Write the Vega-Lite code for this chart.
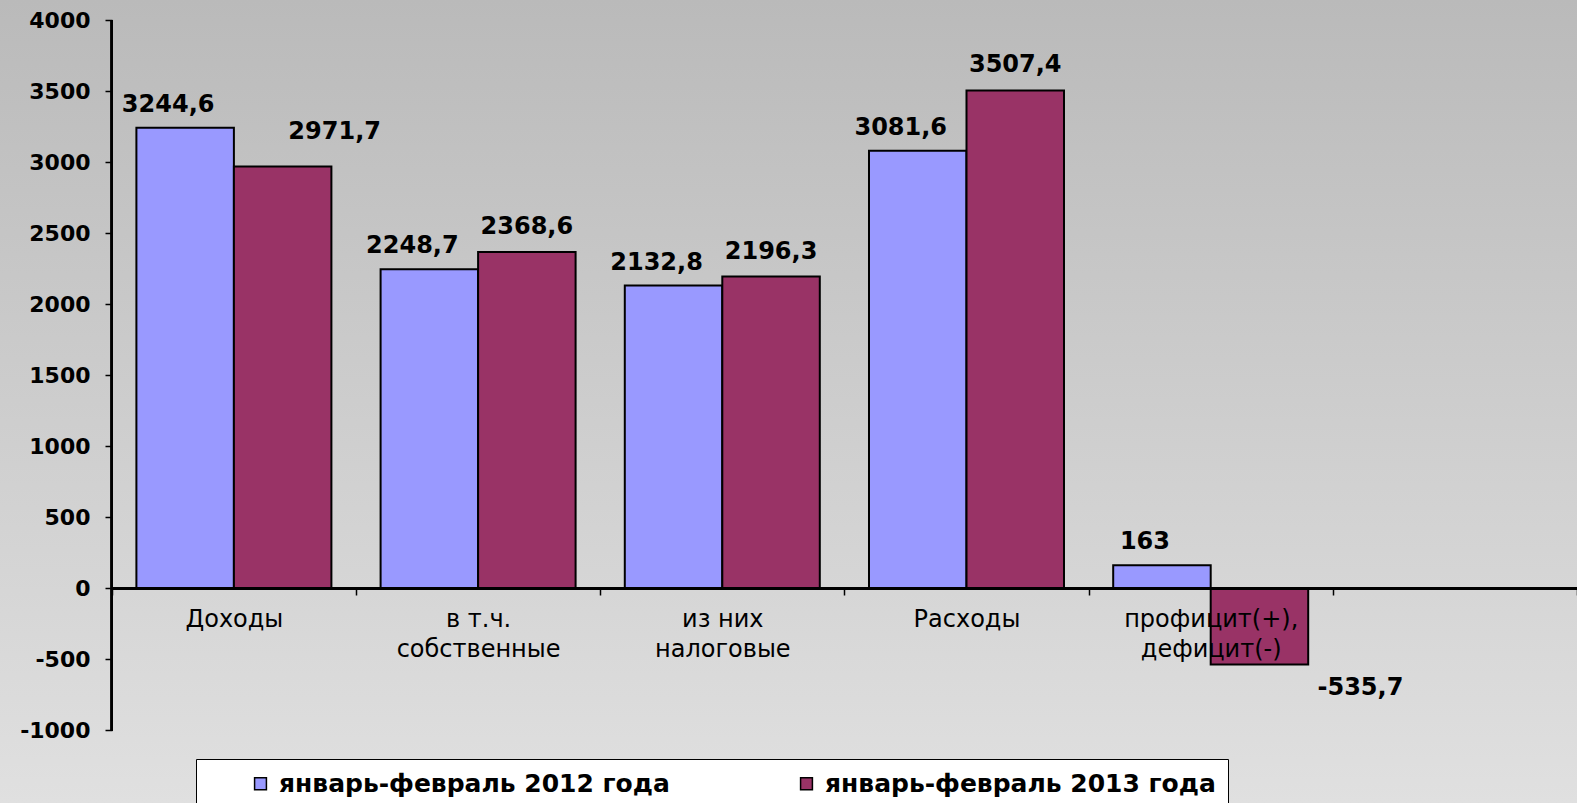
{
  "$schema": "https://vega.github.io/schema/vega-lite/v6.json",
  "width": 1577,
  "height": 803,
  "autosize": {"type": "none"},
  "padding": 0,
  "background": "#cccccc",
  "config": {
    "view": {"stroke": null, "fill": {"gradient": "linear", "x1": 0, "y1": 0, "x2": 0, "y2": 1, "stops": [{"offset": 0, "color": "#bababa"}, {"offset": 1, "color": "#e0e0e0"}]}},
    "font": "DejaVu Sans",
    "locale": {"number": {"decimal": ",", "thousands": "", "grouping": [3], "currency": ["", ""], "minus": "-"}}
  },
  "data": {"values": [
    {"category": "Доходы", "series": "январь-февраль 2012 года", "value": 3244.6},
    {"category": "Доходы", "series": "январь-февраль 2013 года", "value": 2971.7},
    {"category": "в т.ч. собственные", "series": "январь-февраль 2012 года", "value": 2248.7},
    {"category": "в т.ч. собственные", "series": "январь-февраль 2013 года", "value": 2368.6},
    {"category": "из них налоговые", "series": "январь-февраль 2012 года", "value": 2132.8},
    {"category": "из них налоговые", "series": "январь-февраль 2013 года", "value": 2196.3},
    {"category": "Расходы", "series": "январь-февраль 2012 года", "value": 3081.6},
    {"category": "Расходы", "series": "январь-февраль 2013 года", "value": 3507.4},
    {"category": "профицит(+), дефицит(-)", "series": "январь-февраль 2012 года", "value": 163},
    {"category": "профицит(+), дефицит(-)", "series": "январь-февраль 2013 года", "value": -535.7}
  ]},
  "layer": [
    {
      "mark": {"type": "bar", "stroke": "black", "strokeWidth": 2},
      "encoding": {
        "x": {"field": "category", "type": "nominal", "sort": null,
          "scale": {"domain": ["Доходы", "в т.ч. собственные", "из них налоговые", "Расходы", "профицит(+), дефицит(-)", " "], "paddingInner": 0, "paddingOuter": 0.2289, "align": 1},
          "axis": {"title": null, "orient": "bottom", "offset": -215, "domain": false, "tickBand": "extent", "tickColor": "black", "tickSize": 7, "tickWidth": 1.5,
            "labelAngle": 0, "labelFont": "DejaVu Sans", "labelFontSize": 24, "labelColor": "black", "labelPadding": 12, "labelLineHeight": 30, "labelBaseline": "top", "labelLimit": 400,
            "labelExpr": "datum.label == 'в т.ч. собственные' ? ['в т.ч.', 'собственные'] : datum.label == 'из них налоговые' ? ['из них', 'налоговые'] : datum.label == 'профицит(+), дефицит(-)' ? ['профицит(+),', 'дефицит(-)'] : datum.label",
            "zindex": 2}},
        "xOffset": {"field": "series", "type": "nominal", "scale": {"paddingInner": 0, "paddingOuter": 0.2523}},
        "y": {"field": "value", "type": "quantitative",
          "scale": {"domain": [-1511, 4144], "nice": false, "zero": false},
          "axis": {"title": null, "offset": -112, "domain": false, "grid": false, "values": [-1000, -500, 0, 500, 1000, 1500, 2000, 2500, 3000, 3500, 4000], "format": "d",
            "tickColor": "black", "tickSize": 7, "tickWidth": 1.5, "labelFont": "DejaVu Sans", "labelFontWeight": "bold", "labelFontSize": 22, "labelColor": "black", "labelPadding": 15}},
        "y2": {"datum": 0},
        "color": {"field": "series", "type": "nominal",
          "scale": {"domain": ["январь-февраль 2012 года", "январь-февраль 2013 года"], "range": ["#9999ff", "#993366"]},
          "legend": {"title": null, "orient": "none", "legendX": 196, "legendY": 759, "direction": "horizontal",
            "fillColor": "white", "strokeColor": "black", "padding": 12, "symbolType": "square", "symbolSize": 140,
            "symbolStrokeColor": "black", "symbolStrokeWidth": 1.5, "labelFont": "DejaVu Sans", "labelFontSize": 25, "labelFontWeight": "bold",
            "labelColor": "black", "labelLimit": 600, "columnPadding": 84, "symbolOffset": 40, "labelOffset": 6}}
      }
    },
    {
      "transform": [{"filter": "datum.series == 'январь-февраль 2012 года'"}],
      "mark": {"type": "text", "fontWeight": "bold", "fontSize": 24, "font": "DejaVu Sans", "baseline": "middle", "dx": -17, "dy": -23, "color": "black"},
      "encoding": {
        "x": {"field": "category", "type": "nominal", "sort": null},
        "xOffset": {"field": "series", "type": "nominal"},
        "y": {"field": "value", "type": "quantitative"},
        "text": {"field": "value", "type": "quantitative", "format": ".1~f"}
      }
    },
    {
      "transform": [{"filter": "datum.series == 'январь-февраль 2013 года' && datum.category != 'Доходы' && datum.value > 0"}],
      "mark": {"type": "text", "fontWeight": "bold", "fontSize": 24, "font": "DejaVu Sans", "baseline": "middle", "dx": 0, "dy": -25, "color": "black"},
      "encoding": {
        "x": {"field": "category", "type": "nominal", "sort": null},
        "xOffset": {"field": "series", "type": "nominal"},
        "y": {"field": "value", "type": "quantitative"},
        "text": {"field": "value", "type": "quantitative", "format": ".1~f"}
      }
    },
    {
      "transform": [{"filter": "datum.series == 'январь-февраль 2013 года' && datum.category == 'Доходы'"}],
      "mark": {"type": "text", "fontWeight": "bold", "fontSize": 24, "font": "DejaVu Sans", "baseline": "middle", "dx": 52, "dy": -34, "color": "black"},
      "encoding": {
        "x": {"field": "category", "type": "nominal", "sort": null},
        "xOffset": {"field": "series", "type": "nominal"},
        "y": {"field": "value", "type": "quantitative"},
        "text": {"field": "value", "type": "quantitative", "format": ".1~f"}
      }
    },
    {
      "transform": [{"filter": "datum.value < 0"}],
      "mark": {"type": "text", "fontWeight": "bold", "fontSize": 24, "font": "DejaVu Sans", "baseline": "middle", "dx": 101, "dy": 23, "color": "black"},
      "encoding": {
        "x": {"field": "category", "type": "nominal", "sort": null},
        "xOffset": {"field": "series", "type": "nominal"},
        "y": {"field": "value", "type": "quantitative"},
        "text": {"field": "value", "type": "quantitative", "format": ".1~f"}
      }
    },
    {
      "mark": {"type": "rule", "color": "black", "strokeWidth": 2},
      "encoding": {
        "x": {"datum": "Доходы", "type": "nominal", "bandPosition": 0},
        "y": {"datum": -1000, "type": "quantitative"},
        "y2": {"datum": 4000}
      }
    },
    {
      "mark": {"type": "rule", "color": "black", "strokeWidth": 2},
      "encoding": {
        "x": {"datum": "Доходы", "type": "nominal", "bandPosition": 0},
        "x2": {"value": "width"},
        "y": {"datum": 0, "type": "quantitative"}
      }
    }
  ]
}
